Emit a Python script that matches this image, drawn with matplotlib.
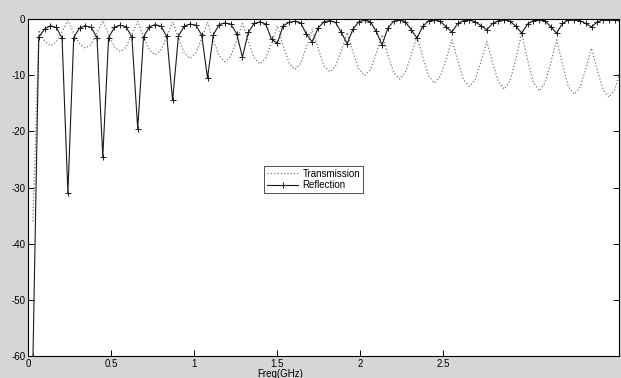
import numpy as np
import matplotlib
matplotlib.use('Agg')
import matplotlib.pyplot as plt

plt.rcParams['font.family'] = ['Liberation Sans', 'DejaVu Sans']

# Sweep grid: 102 points, 30 MHz .. 3.57 GHz
freq_ghz = np.linspace(0.03, 3.57, 102)

# S21 (dB), one line per ripple period
transmission_db = [
    -36.0, -2.0, -3.9, -4.8, -4.1, -2.3,
    -0.2, -2.5, -4.4, -5.2, -4.5, -2.5,
    -0.3, -2.8, -5.0, -5.8, -5.0, -2.8,
    -0.4, -3.1, -5.5, -6.4, -5.5, -3.2,
    -0.5, -3.4, -6.0, -7.0, -6.0, -3.5,
    -0.6, -3.8, -6.5, -7.6, -6.6, -3.9,
    -0.8, -4.0, -6.9, -8.0, -7.0, -4.3,
    -1.2, -4.7, -7.8, -9.0, -7.9, -5.0,
    -1.8, -5.2, -8.3, -9.4, -8.4, -5.6,
    -2.4, -5.9, -8.9, -10.1, -9.0, -6.1,
    -2.8, -6.4, -9.5, -10.7, -9.5, -6.5,
    -3.0, -6.8, -10.1, -11.4, -10.2, -7.2,
    -3.7, -7.4, -10.8, -12.0, -10.8, -7.6,
    -4.0, -7.8, -11.2, -12.5, -11.0, -7.1,
    -2.6, -7.2, -11.3, -12.8, -11.4, -7.8,
    -3.7, -8.1, -12.0, -13.4, -12.2, -8.9,
    -5.2, -9.1, -12.6, -13.9, -12.6, -9.0,
]

# S11 (dB)
reflection_db = [
    -60.0, -3.2, -1.8, -1.2, -1.5, -3.4,
    -31.0, -3.3, -1.6, -1.2, -1.5, -3.3,
    -24.5, -3.3, -1.5, -1.1, -1.4, -3.2,
    -19.5, -3.2, -1.4, -1.0, -1.3, -3.1,
    -14.5, -3.0, -1.3, -0.9, -1.1, -2.9,
    -10.5, -2.8, -1.0, -0.7, -0.9, -2.6,
    -6.8, -2.4, -0.8, -0.5, -0.9, -3.6,
    -4.3, -1.2, -0.6, -0.4, -0.7, -2.7,
    -4.1, -1.6, -0.5, -0.3, -0.6, -2.4,
    -4.4, -1.8, -0.5, -0.2, -0.5, -2.2,
    -4.6, -1.6, -0.4, -0.2, -0.5, -1.9,
    -3.4, -1.3, -0.3, -0.2, -0.4, -1.4,
    -2.3, -0.8, -0.3, -0.2, -0.5, -1.2,
    -1.9, -0.8, -0.3, -0.1, -0.4, -1.3,
    -2.5, -0.9, -0.3, -0.2, -0.3, -1.4,
    -2.5, -0.8, -0.2, -0.1, -0.3, -0.8,
    -1.4, -0.5, -0.2, -0.1, -0.2, -0.4,
]

x_ticks = [0, 0.5, 1, 1.5, 2, 2.5]
x_tick_labels = ['0', '0.5', '1', '1.5', '2', '2.5']
y_ticks = [0, -10, -20, -30, -40, -50, -60]
y_tick_labels = ['0', '-10', '-20', '-30', '-40', '-50', '-60']

fig = plt.figure(figsize=(6.21, 3.78), dpi=100, facecolor='#d6d6d6')
ax = fig.add_axes([28 / 621, 22 / 378, 591 / 621, 337 / 378])
ax.set_facecolor('white')

ax.plot(freq_ghz, transmission_db, linestyle=':', color='#7a7a7a',
        linewidth=0.9, label='Transmission')
ax.plot(freq_ghz, reflection_db, linestyle='-', color='#1a1a1a',
        linewidth=0.8, marker='+', markersize=4, markeredgewidth=0.7,
        label='Reflection')

ax.set_xlim(0, 591 / 166)
ax.set_ylim(-60, 0)
ax.set_xticks(x_ticks)
ax.set_xticklabels(x_tick_labels)
ax.set_yticks(y_ticks)
ax.set_yticklabels(y_tick_labels)
ax.tick_params(direction='in', length=4, width=0.7, labelsize=7,
               top=False, right=True, pad=2)
for s in ax.spines.values():
    s.set_linewidth(0.8)
    s.set_color('black')

ax.set_xlabel('Freq(GHz)', fontsize=7, labelpad=1)
ax.xaxis.set_label_coords((280 - 28) / 591, -0.04)

leg = ax.legend(loc='upper left', bbox_to_anchor=(0.40, 0.565), fontsize=7,
                frameon=True, fancybox=False, edgecolor='black',
                handlelength=3.2, borderpad=0.3, labelspacing=0.15,
                handletextpad=0.4, borderaxespad=0)
leg.get_frame().set_linewidth(0.6)

plt.savefig('out.png', dpi=100, facecolor=fig.get_facecolor())
plt.close()
